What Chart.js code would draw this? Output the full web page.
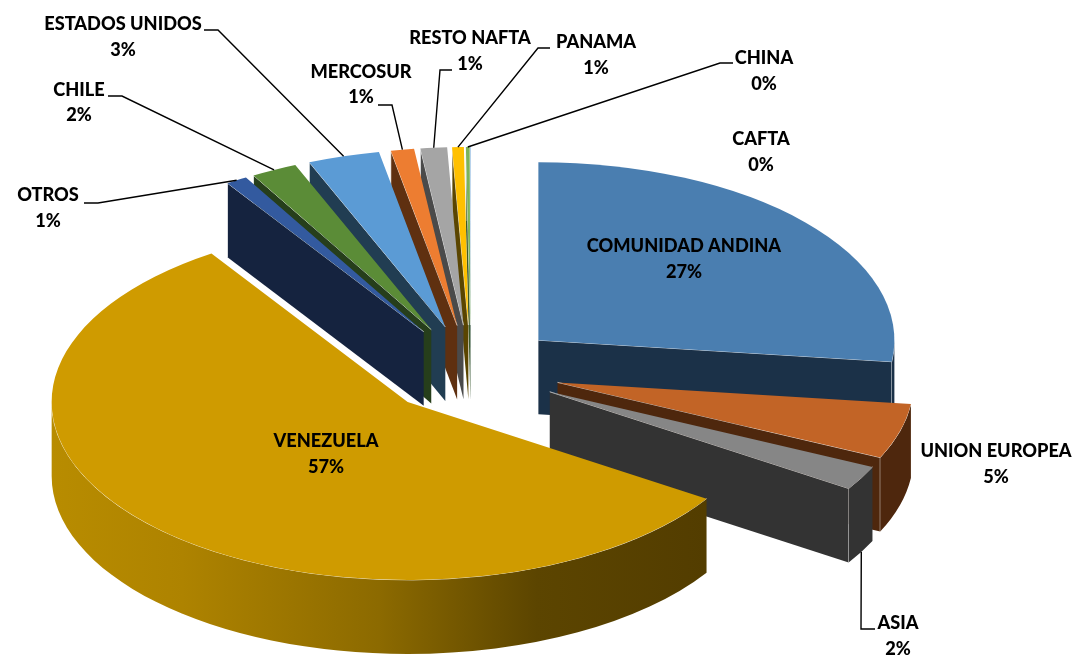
<!DOCTYPE html>
<html lang="es">
<head>
<meta charset="utf-8">
<title>Exportaciones por destino</title>
<script src="https://cdn.jsdelivr.net/npm/chart.js@4.4.0/dist/chart.umd.min.js"></script>
<style>
  html, body { margin: 0; padding: 0; background: #fff; overflow: hidden; }
  canvas { display: block; }
</style>
</head>
<body>
<canvas id="pie" width="1073" height="655"></canvas>
<script>
// slices, clockwise from the top
const categories = ['COMUNIDAD ANDINA', 'UNION EUROPEA', 'ASIA', 'VENEZUELA', 'OTROS', 'CHILE',
  'ESTADOS UNIDOS', 'MERCOSUR', 'RESTO NAFTA', 'PANAMA', 'CHINA', 'CAFTA'];
const shares = [26.9, 5.0, 2.2, 56.5, 0.97, 2.08, 3.25, 1.05, 1.2, 0.53, 0.17, 0.03];

// colours
const topColors = ['#4A7EB0', '#C26426', '#868686', '#CF9B00', '#335A9F', '#5B8C37',
  '#5B9BD5', '#ED7D31', '#A5A5A5', '#FFC000', '#7CB35B', '#8DB8E0'];
const sideColors = ['#1B3148', '#4E270D', '#333333', '#533D00', '#15233F', '#263E1B',
  '#213D52', '#5F3010', '#4A4A4A', '#5A4500', '#3A5A28', '#2F4A66'];
const venezuelaWall = [[0, '#B88C00'], [0.2, '#AE8300'], [0.5, '#8C6A00'], [0.74, '#5C4500'], [1, '#533D00']];

// 3d look: pie centre on screen, squash, thickness, how far slices are pulled out
const center = { x: 471, y: 370 };
const squash = 0.5;
const depth = 74;
const pieRadius = 356;
const explode = 90;
const edgeColor = 'rgba(255,255,255,0.7)';
// back slices first so the front ones cover them
const drawOrder = [11, 10, 9, 8, 7, 6, 5, 4, 0, 1, 2, 3];

// label anchors: [x, y of name, y of percent]
const labelAnchors = [[684, 246, 272], [996, 451, 477], [898, 623, 649], [326, 441, 467],
  [48, 195, 221], [79, 90, 115], [123, 24, 50], [361, 72, 97], [470, 38, 64], [596, 42, 68],
  [764, 58, 84], [761, 139, 165]];
// leader lines: two points next to the label, null when the slice has none
const leaders = [null, null, [[875, 629], [861, 629]], null, [[84, 203], [98, 203]], [[108, 96], [122, 96]],
  [[204, 30], [218, 30]], [[378, 105], [392, 105]], [[452, 70], [440, 70]], [[550, 48], [538, 48]],
  [[733, 63], [720, 63]], null];

function sliceGeometry(arc) {
  const mid = (arc.startAngle + arc.endAngle) / 2;
  return {
    cx: center.x + Math.cos(mid) * explode,
    cy: center.y + Math.sin(mid) * explode * squash,
    r: arc.outerRadius,
    start: arc.startAngle,
    end: arc.endAngle,
    mid
  };
}

function rimPoint(g, angle) {
  return { x: g.cx + Math.cos(angle) * g.r, y: g.cy + Math.sin(angle) * g.r * squash };
}

function drawFace(ctx, g, angle, color) {
  const p = rimPoint(g, angle);
  ctx.fillStyle = color;
  ctx.beginPath();
  ctx.moveTo(g.cx, g.cy);
  ctx.lineTo(p.x, p.y);
  ctx.lineTo(p.x, p.y + depth);
  ctx.lineTo(g.cx, g.cy + depth);
  ctx.closePath();
  ctx.fill();
  ctx.strokeStyle = edgeColor;
  ctx.lineWidth = 1;
  ctx.beginPath();
  ctx.moveTo(g.cx, g.cy);
  ctx.lineTo(p.x, p.y);
  ctx.lineTo(p.x, p.y + depth);
  ctx.stroke();
}

function drawWall(ctx, g, index) {
  const a0 = Math.max(g.start, 0);
  const a1 = Math.min(g.end, Math.PI);
  if (a1 <= a0) return;
  let fill = sideColors[index];
  if (categories[index] === 'VENEZUELA') {
    fill = ctx.createLinearGradient(rimPoint(g, a1).x, 0, rimPoint(g, a0).x, 0);
    venezuelaWall.forEach(s => fill.addColorStop(s[0], s[1]));
  }
  ctx.fillStyle = fill;
  ctx.beginPath();
  ctx.ellipse(g.cx, g.cy, g.r, g.r * squash, 0, a0, a1);
  ctx.ellipse(g.cx, g.cy + depth, g.r, g.r * squash, 0, a1, a0, true);
  ctx.closePath();
  ctx.fill();
  ctx.strokeStyle = edgeColor;
  ctx.lineWidth = 1;
  ctx.beginPath();
  ctx.ellipse(g.cx, g.cy, g.r, g.r * squash, 0, a0, a1);
  ctx.stroke();
}

const pie3d = {
  id: 'pie3d',
  beforeDatasetsDraw(chart) {
    const ctx = chart.ctx;
    const arcs = chart.getDatasetMeta(0).data;
    drawOrder.forEach(i => {
      const arc = arcs[i];
      const g = sliceGeometry(arc);
      // a cut face only shows when the slice top lies above it
      if (Math.cos(g.start) < 0) drawFace(ctx, g, g.start, sideColors[i]);
      if (Math.cos(g.end) > 0) drawFace(ctx, g, g.end, sideColors[i]);
      drawWall(ctx, g, i);
      ctx.save();
      ctx.translate(g.cx, g.cy);
      ctx.scale(1, squash);
      ctx.translate(-arc.x, -arc.y);
      arc.draw(ctx);
      ctx.restore();
    });
  },
  // tops were drawn above, in depth order
  beforeDatasetDraw() {
    return false;
  },
  afterDatasetsDraw(chart) {
    const ctx = chart.ctx;
    const arcs = chart.getDatasetMeta(0).data;
    ctx.strokeStyle = '#000';
    ctx.lineWidth = 1.4;
    leaders.forEach((pts, i) => {
      if (!pts) return;
      const g = sliceGeometry(arcs[i]);
      const end = rimPoint(g, g.mid);
      if (Math.sin(g.mid) > 0) end.y += depth;
      ctx.beginPath();
      ctx.moveTo(pts[0][0], pts[0][1]);
      ctx.lineTo(pts[1][0], pts[1][1]);
      ctx.lineTo(end.x, end.y);
      ctx.stroke();
    });
    ctx.fillStyle = '#000';
    ctx.font = '900 18.2px Lato, "Open Sans", sans-serif';
    ctx.textAlign = 'center';
    ctx.textBaseline = 'middle';
    categories.forEach((name, i) => {
      const a = labelAnchors[i];
      ctx.fillText(name, a[0], a[1]);
      ctx.fillText(Math.round(shares[i]) + '%', a[0], a[2]);
    });
  }
};

new Chart(document.getElementById('pie'), {
  type: 'pie',
  data: {
    labels: categories,
    datasets: [{ data: shares, backgroundColor: topColors, borderWidth: 0 }]
  },
  options: {
    responsive: false,
    animation: false,
    radius: pieRadius,
    plugins: { legend: { display: false }, tooltip: { enabled: false } }
  },
  plugins: [pie3d]
});
</script>
</body>
</html>
